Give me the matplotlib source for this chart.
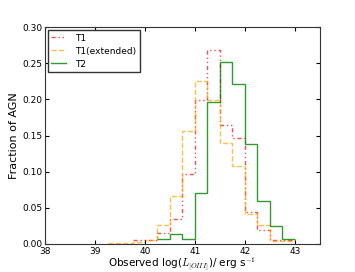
import matplotlib
matplotlib.use("Agg")
import matplotlib.pyplot as plt
import numpy as np

# bin edges (width 0.25 dex)
edges = np.arange(38.0, 43.01, 0.25)

t1 = [0, 0, 0, 0, 0, 0, 0, 0.0055, 0.005, 0.015, 0.035, 0.097, 0.199, 0.268,
      0.165, 0.147, 0.044, 0.020, 0.0055, 0.0055]
t1_ext = [0, 0, 0, 0, 0, 0.001, 0.001, 0.003, 0.005, 0.026, 0.066, 0.156, 0.226, 0.199,
          0.140, 0.108, 0.042, 0.026, 0.004, 0.004]
t2 = [0, 0, 0, 0, 0, 0, 0, 0, 0, 0.007, 0.014, 0.007, 0.071, 0.196,
      0.252, 0.221, 0.139, 0.060, 0.025, 0.007]

plt.rcParams['xtick.direction'] = 'in'
plt.rcParams['ytick.direction'] = 'in'
plt.rcParams['mathtext.fontset'] = 'cm'

fig = plt.figure(figsize=(3.55, 2.72), dpi=100)
ax = fig.add_axes([0.127, 0.103, 0.774, 0.797])


def draw(vals, **kw):
    # only draw from the first non-empty bin to the last
    v = np.array(vals)
    nz = np.nonzero(v)[0]
    lo, hi = nz[0], nz[-1] + 1
    ax.stairs(v[lo:hi], edges[lo:hi + 1], baseline=None, **kw)


draw(t1, color='red', ls=(0, (3, 2, 1, 2, 1, 2)), lw=1.0, alpha=0.7, label='T1')
draw(t1_ext, color='orange', ls='--', lw=1.0, alpha=0.7, label='T1(extended)')
draw(t2, color='green', ls='-', lw=1.0, alpha=0.8, label='T2')

ax.set_xlim(38, 43.5)
ax.set_ylim(0, 0.30)
ax.set_xticks([38, 39, 40, 41, 42, 43])
ax.set_yticks(np.arange(0, 0.31, 0.05))
ax.set_yticklabels(['%.2f' % v for v in np.arange(0, 0.31, 0.05)])
ax.tick_params(labelsize=6.5, top=True, right=True, length=3, pad=2)
for s in ax.spines.values():
    s.set_color('#333333')

ax.set_xlabel(r'Observed log($L_{[OIII]}$)/ erg s$^{-1}$', fontsize=7.5, labelpad=0)
ax.set_ylabel('Fraction of AGN', fontsize=8, labelpad=2)

leg = ax.legend(loc='upper left', fontsize=6.5, fancybox=False, framealpha=1,
                handlelength=1.6, handletextpad=1.0, labelspacing=0.45,
                borderaxespad=0.3)
leg.get_frame().set_edgecolor('#333333')

fig.savefig('out.png', dpi=100, facecolor='white')
